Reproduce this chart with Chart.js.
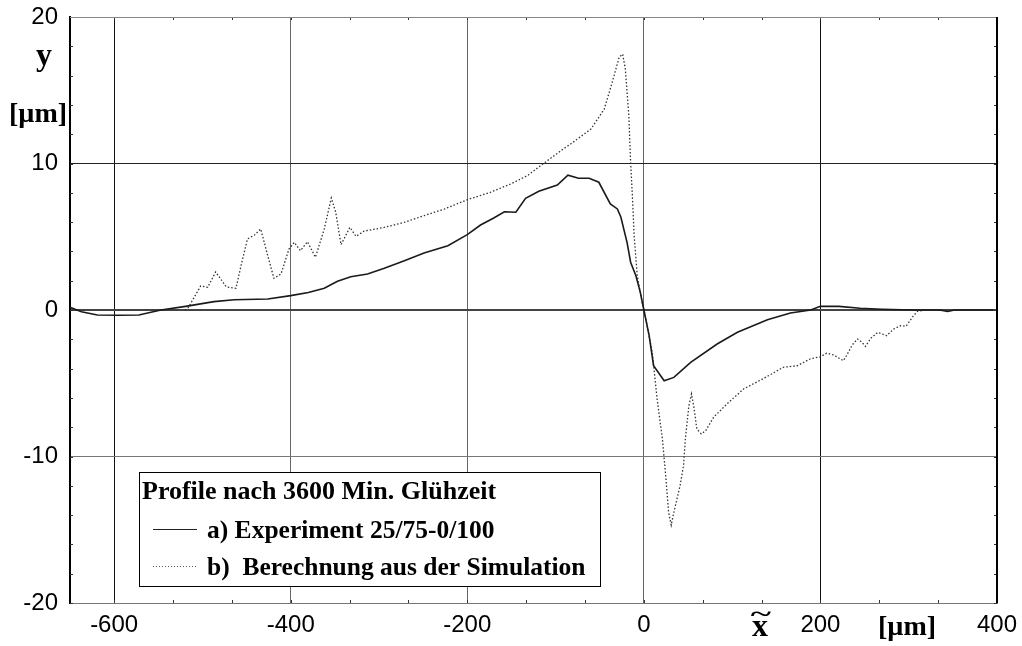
<!DOCTYPE html>
<html>
<head>
<meta charset="utf-8">
<script src="https://cdn.jsdelivr.net/npm/chart.js@4.4.1/dist/chart.umd.min.js"></script>
<style>
  html, body { margin: 0; padding: 0; background: #fff; }
  #wrap { width: 1022px; height: 646px; }
</style>
</head>
<body>
<div id="wrap"><canvas id="profile-chart" width="1022" height="646"></canvas></div>
<script>
// Tick values
const xTicks = [-600, -400, -200, 0, 200, 400];
const yTicks = [-20, -10, 0, 10, 20];

// a) Experiment 25/75-0/100 (solid)
const expX = [-650, -637, -619, -595, -572, -547, -519, -487, -464, -426,
  -400, -380, -362, -347, -332, -313, -294, -272, -249, -222,
  -200, -185, -170, -158, -145, -134, -119, -98, -86, -74,
  -62, -51, -38, -30, -26, -19, -15, -9, -4, 0,
  6, 11, 23, 34, 53, 83, 106, 140, 166, 189,
  200, 221, 245, 270, 304, 335, 344, 352, 370, 396];
const expY = [0.18, -0.12, -0.34, -0.36, -0.34, 0, 0.25, 0.57, 0.70, 0.75,
  0.98, 1.2, 1.48, 1.96, 2.27, 2.46, 2.85, 3.35, 3.89, 4.39,
  5.14, 5.8, 6.28, 6.71, 6.67, 7.62, 8.1, 8.53, 9.2, 8.99,
  8.99, 8.72, 7.24, 6.9, 6.33, 4.6, 3.26, 2.34, 1.2, 0,
  -1.75, -3.8, -4.83, -4.6, -3.57, -2.32, -1.52, -0.66, -0.2, 0,
  0.25, 0.25, 0.12, 0.05, 0, 0, -0.1, 0, 0, 0];

// b) Berechnung aus der Simulation (dotted)
const simX = [-520, -516, -509, -502, -494, -485, -473, -462, -456, -449,
  -441, -434, -426, -419, -411, -402, -396, -389, -381, -372,
  -362, -354, -349, -343, -333, -326, -317, -294, -272, -249,
  -226, -200, -174, -151, -132, -113, -91, -83, -60, -45,
  -36, -28, -24, -21, -17, -15, -13, -11, -7.5, -2,
  0, 9.5, 15, 21, 25, 28, 31, 34, 41, 45,
  47, 51, 54, 57, 60, 65, 70, 79, 94, 113,
  136, 158, 174, 189, 200, 207, 215, 226, 230, 236,
  242, 247, 251, 257, 265, 275, 283, 291, 297, 305,
  310, 320];
const simY = [0, 0.16, 0.9, 1.64, 1.55, 2.6, 1.58, 1.48, 3.1, 4.85,
  5.12, 5.53, 3.7, 2.16, 2.46, 4.16, 4.62, 4.05, 4.66, 3.6,
  5.53, 7.65, 6.67, 4.46, 5.64, 5.03, 5.38, 5.64, 5.97, 6.44,
  6.89, 7.53, 8.03, 8.6, 9.17, 10.03, 11.0, 11.33, 12.35, 13.7,
  15.5, 17.25, 17.47, 16.45, 13.26, 10.08, 7.8, 5.07, 2.34, 0.53,
  0.07, -2.89, -6.07, -8.8, -11.5, -13.8, -14.68, -13.8, -12, -10.6,
  -8.8, -6.53, -5.73, -6.76, -8.12, -8.46, -8.24, -7.32, -6.42, -5.39,
  -4.66, -3.91, -3.8, -3.32, -3.2, -2.95, -3.07, -3.46, -3.07, -2.39,
  -1.98, -2.2, -2.48, -1.93, -1.52, -1.75, -1.3, -1.07, -1.11, -0.43,
  -0.09, 0];

const legendTitle = "Profile nach 3600 Min. Glühzeit";
const labelExp = "a) Experiment 25/75-0/100";
const labelSim = "b)  Berechnung aus der Simulation";

const SERIF = '"Liberation Serif", "Times New Roman", serif';
const SANS = '"Liberation Sans", Arial, sans-serif';

const toPoints = (xs, ys) => xs.map((x, i) => ({ x: x, y: ys[i] }));

// gridline shades, darker where the scan shows a heavier line
const xGridColor = (v) => (v === -600 || v === 200 || v === 400) ? "#111" : "#666";
const yGridColor = (v) => (v === 10) ? "#222" : (v === 0 ? "#444" : "#777");

// frame, minor ticks, axis titles and the boxed legend
const decorations = {
  id: "decorations",
  beforeDatasetsDraw(chart) {
    const { ctx, chartArea: a, scales } = chart;
    ctx.save();
    ctx.strokeStyle = "#333";
    ctx.lineWidth = 1;
    // minor ticks on x (every 200/3) top and bottom
    for (let k = -9; k <= 6; k++) {
      const v = k * 200 / 3;
      if (v < -650 || v > 400) continue;
      const px = Math.round(scales.x.getPixelForValue(v)) + 0.5;
      ctx.beginPath();
      ctx.moveTo(px, a.top); ctx.lineTo(px, a.top + 3);
      ctx.moveTo(px, a.bottom); ctx.lineTo(px, a.bottom - 3);
      ctx.stroke();
    }
    // minor ticks on y (every 2) left and right
    for (let v = -20; v <= 20; v += 2) {
      const py = Math.round(scales.y.getPixelForValue(v)) + 0.5;
      ctx.beginPath();
      ctx.moveTo(a.left, py); ctx.lineTo(a.left + 3, py);
      ctx.moveTo(a.right, py); ctx.lineTo(a.right - 3, py);
      ctx.stroke();
    }
    // top and right frame
    ctx.strokeStyle = "#888";
    ctx.beginPath(); ctx.moveTo(a.left, a.top + 0.5); ctx.lineTo(a.right, a.top + 0.5); ctx.stroke();
    ctx.strokeStyle = "#000";
    ctx.lineWidth = 2;
    ctx.beginPath(); ctx.moveTo(a.right, a.top); ctx.lineTo(a.right, a.bottom); ctx.stroke();
    ctx.restore();
  },
  afterDraw(chart) {
    const { ctx } = chart;
    ctx.save();
    ctx.fillStyle = "#000";
    ctx.textBaseline = "alphabetic";

    // y axis title
    ctx.textAlign = "center";
    ctx.font = "bold 32px " + SERIF;
    ctx.fillText("y", 44, 65);
    ctx.font = "bold 28px " + SERIF;
    ctx.fillText("[µm]", 38, 122);

    // x axis title pieces
    ctx.font = "bold 32px " + SERIF;
    ctx.fillText("x", 760, 636);
    ctx.font = "bold 30px " + SERIF;
    ctx.save();
    ctx.translate(761, 621);
    ctx.scale(1.3, 0.8);
    ctx.fillText("~", 0, 0);
    ctx.restore();
    ctx.font = "bold 28px " + SERIF;
    ctx.fillText("[µm]", 907, 635);

    // legend box
    const bx = 139, by = 472, bw = 461, bh = 114;
    ctx.fillStyle = "#fff";
    ctx.fillRect(bx, by, bw, bh);
    ctx.strokeStyle = "#000";
    ctx.lineWidth = 1;
    ctx.strokeRect(bx + 0.5, by + 0.5, bw, bh);

    ctx.fillStyle = "#000";
    ctx.textAlign = "left";
    ctx.font = "bold 26px " + SERIF;
    ctx.fillText(legendTitle, 142, 499);
    ctx.font = "bold 25.5px " + SERIF;
    ctx.fillText(labelExp, 207, 538);
    ctx.fillText(labelSim, 207, 575);

    ctx.strokeStyle = "#222";
    ctx.lineWidth = 1;
    ctx.beginPath(); ctx.moveTo(153, 529.5); ctx.lineTo(197, 529.5); ctx.stroke();
    ctx.strokeStyle = "#555";
    ctx.setLineDash([1, 2]);
    ctx.beginPath(); ctx.moveTo(153, 566.5); ctx.lineTo(197, 566.5); ctx.stroke();
    ctx.restore();
  }
};

const chart = new Chart(document.getElementById("profile-chart"), {
  type: "line",
  data: {
    datasets: [
      {
        label: labelExp,
        data: toPoints(expX, expY),
        borderColor: "#1a1a1a",
        borderWidth: 1.6,
        pointRadius: 0,
        tension: 0,
        fill: false
      },
      {
        label: labelSim,
        data: toPoints(simX, simY),
        borderColor: "#333",
        borderWidth: 1.3,
        borderDash: [1.5, 2],
        pointRadius: 0,
        tension: 0,
        fill: false
      }
    ]
  },
  options: {
    responsive: false,
    animation: false,
    devicePixelRatio: 1,
    layout: { padding: { top: 17, right: 25, left: 0, bottom: 0 } },
    plugins: {
      legend: { display: false },
      tooltip: { enabled: false }
    },
    scales: {
      x: {
        type: "linear",
        min: -650,
        max: 400,
        afterBuildTicks: (s) => { s.ticks = xTicks.map(v => ({ value: v })); },
        afterFit: (s) => { s.height = 43; s.paddingLeft = 0; s.paddingRight = 0; },
        grid: {
          drawTicks: false,
          color: (c) => xGridColor(c.tick ? c.tick.value : null),
          lineWidth: 1
        },
        border: { display: true, color: "#777", width: 1 },
        ticks: {
          color: "#000",
          padding: 8,
          maxRotation: 0,
          autoSkip: false,
          font: { family: SANS, size: 24 }
        }
      },
      y: {
        type: "linear",
        min: -20,
        max: 20,
        afterBuildTicks: (s) => { s.ticks = yTicks.map(v => ({ value: v })); },
        afterFit: (s) => { s.width = 70; s.paddingTop = 0; s.paddingBottom = 0; },
        grid: {
          drawTicks: false,
          color: (c) => yGridColor(c.tick ? c.tick.value : null),
          lineWidth: (c) => (c.tick && c.tick.value === 0) ? 2 : 1
        },
        border: { display: true, color: "#000", width: 2 },
        ticks: {
          color: "#000",
          padding: 12,
          font: { family: SANS, size: 24 }
        }
      }
    }
  },
  plugins: [decorations]
});
</script>
</body>
</html>
